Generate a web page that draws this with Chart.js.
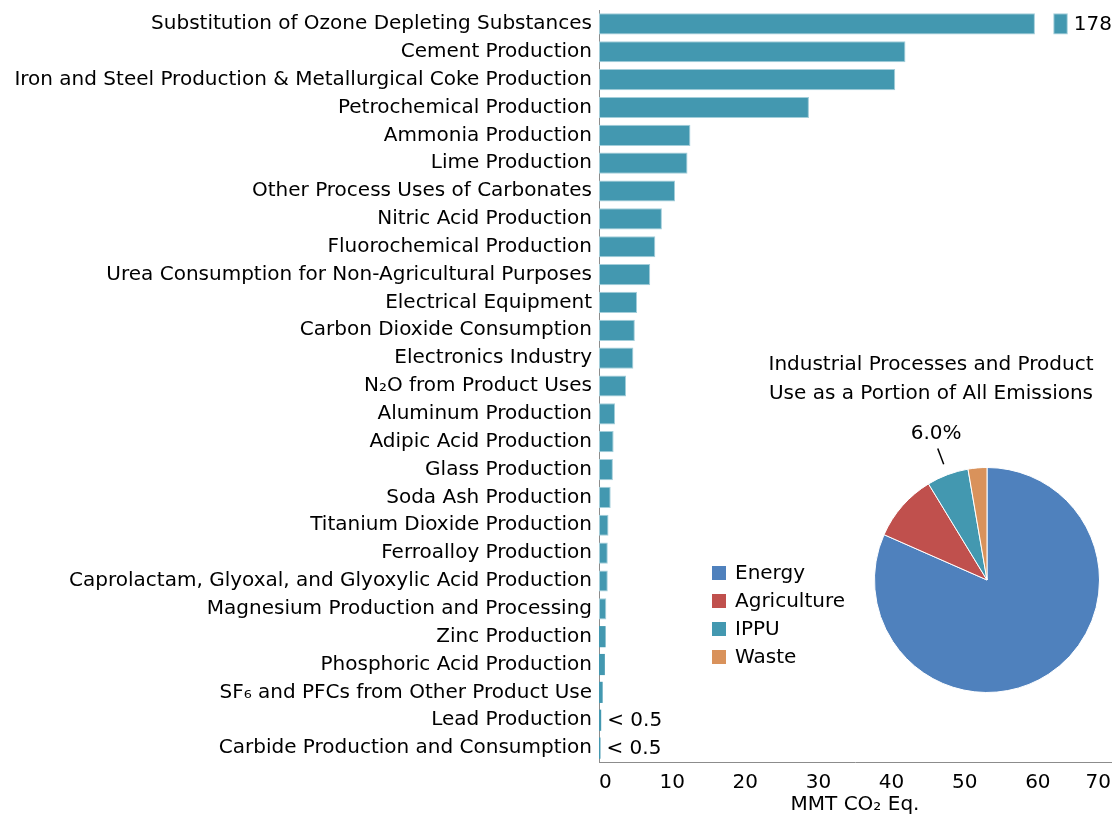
<!DOCTYPE html>
<html>
<head>
<meta charset="utf-8">
<script src="https://cdn.jsdelivr.net/npm/chart.js@4.4.1/dist/chart.umd.min.js"></script>
<style>
  html, body { margin: 0; padding: 0; background: #fff; overflow: hidden; }
  #wrap { position: relative; width: 1115px; height: 822px; }
  #barChart { position: absolute; left: 0; top: 0; }
  #pieChart { position: absolute; left: 690px; top: 340px; }
</style>
</head>
<body>
<div id="wrap">
  <canvas id="barChart" width="1115" height="822"></canvas>
  <canvas id="pieChart" width="425" height="372"></canvas>
</div>
<script>
// categorias y valores (MMT CO2 Eq.)
const categories = [
  'Substitution of Ozone Depleting Substances',
  'Cement Production',
  'Iron and Steel Production & Metallurgical Coke Production',
  'Petrochemical Production',
  'Ammonia Production',
  'Lime Production',
  'Other Process Uses of Carbonates',
  'Nitric Acid Production',
  'Fluorochemical Production',
  'Urea Consumption for Non-Agricultural Purposes',
  'Electrical Equipment',
  'Carbon Dioxide Consumption',
  'Electronics Industry',
  'N₂O from Product Uses',
  'Aluminum Production',
  'Adipic Acid Production',
  'Glass Production',
  'Soda Ash Production',
  'Titanium Dioxide Production',
  'Ferroalloy Production',
  'Caprolactam, Glyoxal, and Glyoxylic Acid Production',
  'Magnesium Production and Processing',
  'Zinc Production',
  'Phosphoric Acid Production',
  'SF₆ and PFCs from Other Product Use',
  'Lead Production',
  'Carbide Production and Consumption'
];
const values = [178, 41.9, 40.5, 28.7, 12.5, 12.1, 10.4, 8.6, 7.7, 7.0, 5.2, 4.9, 4.7, 3.7,
  2.2, 2.0, 1.9, 1.6, 1.3, 1.2, 1.2, 1.0, 0.9, 0.8, 0.5, 0.3, 0.2];

const xTicks = [0, 10, 20, 30, 40, 50, 60, 70];
const axisMax = 70;
const breakAt = 59.6; // donde se corta la barra de 178

// pie: porcion de todas las emisiones (%)
const sectors = ['Energy', 'Agriculture', 'IPPU', 'Waste'];
const sectorShares = [81.6, 9.7, 6.0, 2.7];
const highlightSector = 'IPPU';

const pieTitle = ['Industrial Processes and Product', 'Use as a Portion of All Emissions'];
const xTitle = 'MMT CO₂ Eq.';

const FONT = 'DejaVu Sans';
const barColor = '#4398B0';
const sectorColors = ['#4F81BD', '#C0504D', '#4398B0', '#D9925B'];

// valores que se dibujan (la primera barra se corta)
const shown = values.map(v => v > axisMax ? breakAt : v);
const stub = values.map(v => v > axisMax ? [breakAt + 2.5, breakAt + 4.5] : null);
const valueLabels = values.map(v => v > axisMax ? String(v) : (v < 0.5 ? '< 0.5' : ''));

// etiquetas al final de las barras
const endLabels = {
  id: 'endLabels',
  afterDatasetsDraw(chart) {
    const ctx = chart.ctx;
    ctx.save();
    ctx.font = '20px "' + FONT + '"';
    ctx.fillStyle = '#000';
    ctx.textBaseline = 'middle';
    ctx.textAlign = 'left';
    valueLabels.forEach((txt, i) => {
      if (!txt) return;
      const ds = stub[i] ? 1 : 0;
      const el = chart.getDatasetMeta(ds).data[i];
      ctx.fillText(txt, el.x + 6, el.y + 1);
    });
    ctx.restore();
  }
};

const barStyle = {
  backgroundColor: barColor,
  borderColor: '#A3CEDA',
  borderWidth: ctx => (values[ctx.dataIndex] < 1 ? 0 : 1),
  borderSkipped: false,
  barPercentage: 0.76,
  categoryPercentage: 1,
  grouped: false
};

new Chart(document.getElementById('barChart'), {
  type: 'bar',
  data: {
    labels: categories,
    datasets: [
      Object.assign({ data: shown }, barStyle),
      Object.assign({ data: stub }, barStyle)
    ]
  },
  options: {
    indexAxis: 'y',
    responsive: false,
    animation: false,
    layout: { padding: { left: 0, top: 10, right: 4, bottom: 0 } },
    plugins: { legend: { display: false }, tooltip: { enabled: false } },
    scales: {
      y: {
        grid: { display: false, drawTicks: false },
        border: { display: true, color: '#8c8c8c', width: 1 },
        ticks: { font: { family: FONT, size: 20 }, color: '#000', padding: 7, autoSkip: false },
        afterFit(scale) { scale.width = 599; scale.paddingTop = 0; scale.paddingBottom = 0; }
      },
      x: {
        min: 0,
        max: axisMax,
        grid: { display: false, drawTicks: false },
        border: { display: true, color: '#8c8c8c', width: 1 },
        afterBuildTicks(scale) { scale.ticks = xTicks.map(v => ({ value: v })); },
        ticks: { font: { family: FONT, size: 20 }, color: '#000', padding: 9, align: 'inner', maxRotation: 0 },
        title: { display: true, text: xTitle, font: { family: FONT, size: 20 }, color: '#000', padding: { top: 0, bottom: 5 } },
        afterFit(scale) { scale.height = 60; scale.paddingLeft = 0; scale.paddingRight = 0; }
      }
    }
  },
  plugins: [endLabels]
});

// titulo, leyenda y etiqueta del pie
const pieExtras = {
  id: 'pieExtras',
  afterDraw(chart) {
    const ctx = chart.ctx;
    ctx.save();
    ctx.font = '20px "' + FONT + '"';
    ctx.fillStyle = '#000';
    ctx.textAlign = 'center';
    ctx.textBaseline = 'middle';
    pieTitle.forEach((line, i) => ctx.fillText(line, 241, 25 + i * 29));

    // leyenda
    ctx.textAlign = 'left';
    sectors.forEach((name, i) => {
      const y = 233 + i * 28;
      ctx.fillStyle = sectorColors[i];
      ctx.fillRect(22, y - 7, 14, 14);
      ctx.fillStyle = '#000';
      ctx.fillText(name, 45, y + 1);
    });

    // porcentaje de IPPU con linea guia
    const idx = sectors.indexOf(highlightSector);
    const arc = chart.getDatasetMeta(0).data[idx];
    const total = sectorShares.reduce((a, b) => a + b, 0);
    const mid = (arc.startAngle + arc.endAngle) / 2;
    const r = arc.outerRadius;
    const p = d => [arc.x + Math.cos(mid) * d, arc.y + Math.sin(mid) * d];
    const a = p(r + 11), b = p(r + 28), c = p(r + 44);
    ctx.strokeStyle = '#000';
    ctx.lineWidth = 1.5;
    ctx.beginPath();
    ctx.moveTo(a[0], a[1]);
    ctx.lineTo(b[0], b[1]);
    ctx.stroke();
    ctx.textAlign = 'center';
    ctx.fillText((sectorShares[idx] / total * 100).toFixed(1) + '%', c[0] + 4, c[1]);
    ctx.restore();
  }
};

new Chart(document.getElementById('pieChart'), {
  type: 'pie',
  data: {
    labels: sectors,
    datasets: [{
      data: sectorShares,
      backgroundColor: sectorColors,
      borderColor: '#ffffff',
      borderWidth: 1
    }]
  },
  options: {
    responsive: false,
    animation: false,
    layout: { padding: { left: 184, top: 127, right: 15, bottom: 19 } },
    plugins: { legend: { display: false }, tooltip: { enabled: false } }
  },
  plugins: [pieExtras]
});
</script>
</body>
</html>
